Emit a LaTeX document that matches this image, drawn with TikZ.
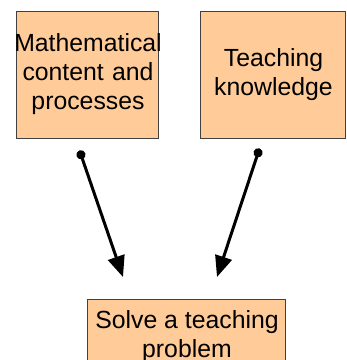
\documentclass[tikz,border=0pt]{standalone}
\usepackage{fontspec}
\setmainfont{Liberation Sans}
\usetikzlibrary{arrows.meta}
\definecolor{peach}{RGB}{255,204,153}
\definecolor{boxline}{RGB}{64,64,64}

\begin{document}
\begin{tikzpicture}[x=1pt,y=-1pt,
                topicbox/.style={draw=boxline,line width=1pt,fill=peach,inner sep=0pt,align=center,
                    font=\fontsize{24.8}{29}\selectfont},
                link/.style={line width=3pt,{Circle[length=9pt]}-{Triangle[length=21pt,width=17pt]}}]
                \useasboundingbox (0,0) rectangle (347,360);
                \node[topicbox,minimum width=142pt,minimum height=127pt,text width=142pt] (maths) at (88,74.5) {\makebox[142pt][c]{Mathematical}\\content and\\processes};
                \node[topicbox,minimum width=145pt,minimum height=127pt] (teach) at (273.5,74.5) {Teaching\\knowledge};
                \scope
                    \clip (0,0) rectangle (347,360);
                    \node[topicbox,anchor=north,minimum width=198pt,inner ysep=11pt] (solve) at (187,299) {Solve a teaching\\problem};
                \endscope
                \coordinate (mathsdot) at (79.5,150.5);
                \coordinate (teachdot) at (259.5,148.5);
                \coordinate (solveleft) at (123,277);
                \coordinate (solveright) at (217,277);
                \draw[link] (mathsdot) -- (solveleft);
                \draw[link] (teachdot) -- (solveright);
            \end{tikzpicture}
\end{document}
